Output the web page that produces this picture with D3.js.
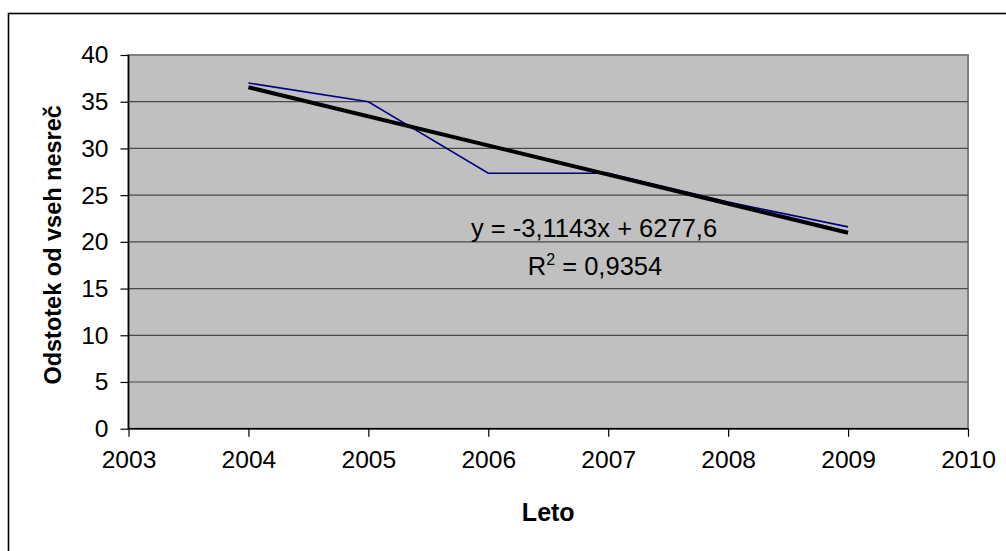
<!DOCTYPE html>
<html>
<head>
  <meta charset="utf-8">
  <title>Odstotek od vseh nesreč</title>
  <style type="text/css">
  body { margin: 0; background: #ffffff; }
  text { font-family: "Liberation Sans", Arial, sans-serif; fill: #000000; }
  </style>
</head>
<body>
  <svg width="1006" height="551"></svg>
  <script src="https://d3js.org/d3.v7.min.js"></script>
  <script>
  // data
  var years = [2004, 2005, 2006, 2007, 2008, 2009];
  var values = [37.0, 35.0, 27.35, 27.35, 24.25, 21.6];
  var xTicks = [2003, 2004, 2005, 2006, 2007, 2008, 2009, 2010];
  var yTicks = [0, 5, 10, 15, 20, 25, 30, 35, 40];
  var trendSlope = -3.1143;
  var trendIntercept = 6277.6;
  var trendLabel = "y = -3,1143x + 6277,6";
  var r2Label = "0,9354";

  var svg = d3.select("svg");

  // outer chart frame (runs past the right and bottom edge)
  svg.append("rect")
    .attr("x", 8.5).attr("y", 13.5)
    .attr("width", 1100).attr("height", 600)
    .attr("fill", "#ffffff")
    .attr("stroke", "#000000")
    .attr("stroke-width", 1.6);

  var pLeft = 128.5, pRight = 968, pTop = 55, pBottom = 428.7;

  var x = d3.scaleLinear().domain([2003, 2010]).range([pLeft, pRight]);
  var y = d3.scaleLinear().domain([0, 40]).range([pBottom, pTop]);

  // plot area
  svg.append("rect")
    .attr("x", pLeft).attr("y", pTop)
    .attr("width", pRight - pLeft).attr("height", pBottom - pTop)
    .attr("fill", "#c0c0c0")
    .attr("stroke", "#808080")
    .attr("stroke-width", 2);

  // gridlines
  svg.append("g")
    .selectAll("line")
    .data(yTicks.filter(function(d) { return d > 0 && d < 40; }))
    .enter()
    .append("line")
    .attr("x1", pLeft).attr("x2", pRight)
    .attr("y1", function(d) { return y(d); })
    .attr("y2", function(d) { return y(d); })
    .attr("stroke", "#4a4a4a")
    .attr("stroke-width", 1.2);

  // axes
  var yAxis = svg.append("g")
    .attr("transform", "translate(" + pLeft + ",0)")
    .call(d3.axisLeft(y).tickValues(yTicks).tickSize(8).tickPadding(12)
      .tickFormat(d3.format("d")));
  var xAxis = svg.append("g")
    .attr("transform", "translate(0," + pBottom + ")")
    .call(d3.axisBottom(x).tickValues(xTicks).tickSize(8).tickPadding(14)
      .tickFormat(d3.format("d")));

  [yAxis, xAxis].forEach(function(a) {
    a.select(".domain").attr("stroke", "#000000").attr("stroke-width", 1.5);
    a.selectAll(".tick line").attr("stroke", "#000000").attr("stroke-width", 1.2);
    a.selectAll(".tick text")
      .attr("font-family", "Liberation Sans, Arial, sans-serif")
      .attr("font-size", 24.6)
      .attr("fill", "#000000");
  });
  yAxis.select(".domain").attr("d", "M0," + pBottom + "V" + pTop);
  xAxis.select(".domain").attr("d", "M" + pLeft + ",0H" + pRight);

  // data line
  var line = d3.line()
    .x(function(d, i) { return x(years[i]); })
    .y(function(d) { return y(d); });

  svg.append("path")
    .datum(values)
    .attr("d", line)
    .attr("fill", "none")
    .attr("stroke", "#000080")
    .attr("stroke-width", 1.6);

  // linear trend
  var trendYears = [years[0], years[years.length - 1]];
  svg.append("line")
    .attr("x1", x(trendYears[0]))
    .attr("y1", y(trendSlope * trendYears[0] + trendIntercept))
    .attr("x2", x(trendYears[1]))
    .attr("y2", y(trendSlope * trendYears[1] + trendIntercept))
    .attr("stroke", "#000000")
    .attr("stroke-width", 4);

  // trend labels
  svg.append("text")
    .attr("x", 594).attr("y", 237)
    .attr("text-anchor", "middle")
    .style("font-size", "25.5px")
    .text(trendLabel);

  var r2 = svg.append("text")
    .attr("x", 595).attr("y", 275)
    .attr("text-anchor", "middle")
    .style("font-size", "25.5px");
  r2.append("tspan").text("R");
  r2.append("tspan").attr("dy", -10).style("font-size", "16px").text("2");
  r2.append("tspan").attr("dy", 10).text(" = " + r2Label);

  // axis titles
  svg.append("text")
    .attr("x", (pLeft + pRight) / 2).attr("y", 521)
    .attr("text-anchor", "middle")
    .style("font-size", "25px")
    .style("font-weight", "bold")
    .text("Leto");

  svg.append("text")
    .attr("transform", "translate(61," + ((pTop + pBottom) / 2 + 3) + ") rotate(-90)")
    .attr("text-anchor", "middle")
    .style("font-size", "23.5px")
    .style("font-weight", "bold")
    .text("Odstotek od vseh nesreč");
  </script>
</body>
</html>
